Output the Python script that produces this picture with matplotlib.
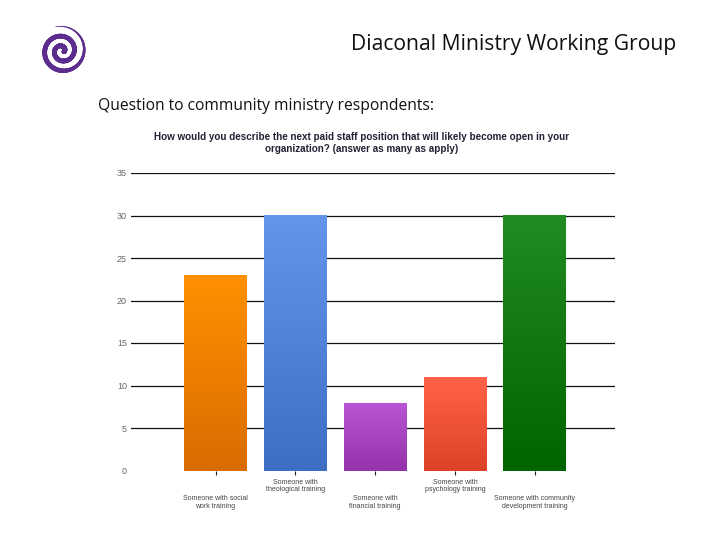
import numpy as np
import matplotlib
matplotlib.use('Agg')
import matplotlib.pyplot as plt
from matplotlib.collections import LineCollection
from matplotlib.colors import LinearSegmentedColormap

categories = ['Someone with social\nwork training', 'Someone with\ntheological training',
              'Someone with\nfinancial training', 'Someone with\npsychology training',
              'Someone with community\ndevelopment training']
values = [23, 30, 8, 11, 30]
top_colors = ['#ff9100', '#6495ed', '#ba55d3', '#ff6347', '#228b22']
bottom_colors = ['#d96c00', '#3f6fc4', '#9632ab', '#dc4326', '#006400']
y_ticks = [0, 5, 10, 15, 20, 25, 30, 35]
label_pads = [15, 3, 15, 3, 15]

W, H = 720, 540
fig = plt.figure(figsize=(7.2, 5.4), dpi=100)
bg = fig.add_axes([0, 0, 1, 1])
bg.set_xlim(0, W)
bg.set_ylim(H, 0)
bg.axis('off')

# slide text
bg.text(676, 44.5, 'Diaconal Ministry Working Group', ha='right', va='center',
        family='Open Sans', fontsize=15.2, color='#111111')
bg.text(98, 106, 'Question to community ministry respondents:', ha='left', va='center',
        family='Open Sans', fontsize=11.25, color='#111111')
bg.text(362, 143, 'How would you describe the next paid staff position that will likely become open in your\n'
        'organization? (answer as many as apply)', ha='center', va='center',
        family='Liberation Sans', fontsize=7.1, fontweight='bold', color='#222233', linespacing=1.25)

# logo spiral
t = np.linspace(0, 1, 400)
theta = np.radians(105) + 2 * np.pi * 2.35 * (t - 1)
r = 2 + 23 * t
sx = 62 + r * np.cos(theta)
sy = 51 - r * np.sin(theta)
pts = np.column_stack([sx, sy]).reshape(-1, 1, 2)
segs = np.concatenate([pts[:-1], pts[1:]], axis=1)
widths = 3.0 * np.where(t[:-1] > 0.75, (1 - t[:-1]) / 0.25, 1) + 0.4
bg.add_collection(LineCollection(segs, linewidths=widths, colors='#5b2d8e', capstyle='round'))

# chart
ax = fig.add_axes([131 / W, 1 - 470.5 / H, (615 - 131) / W, (470.5 - 173) / H])
x = np.arange(len(categories))
bars = ax.bar(x, values, width=0.785, color='none', zorder=3)
for bar, c1, c2 in zip(bars, top_colors, bottom_colors):
    cmap = LinearSegmentedColormap.from_list('g', [c1, c2])
    x0, w, h = bar.get_x(), bar.get_width(), bar.get_height()
    ax.imshow(np.linspace(0, 1, 128).reshape(-1, 1), cmap=cmap, aspect='auto',
              extent=(x0, x0 + w, 0, h), origin='upper', zorder=3)

ax.set_xlim(-1.059, 5.006)
ax.set_ylim(0, 35)
ax.set_yticks(y_ticks)
ax.set_yticklabels([str(v) for v in y_ticks], family='Liberation Sans', fontsize=6.5, color='#666666')
ax.set_xticks(x)
ax.set_xticklabels(categories, family='Liberation Sans', fontsize=5.0, color='#444444', linespacing=1.1)
for tick, pad in zip(ax.xaxis.get_major_ticks(), label_pads):
    tick.set_pad(pad)
ax.tick_params(axis='x', length=3, width=0.8, color='#222222')
ax.tick_params(axis='y', length=0, pad=3)
ax.grid(axis='y', color='#111111', linewidth=0.9, zorder=1)
ax.yaxis.get_major_ticks()[0].gridline.set_visible(False)
ax.set_axisbelow(True)
for s in ax.spines.values():
    s.set_visible(False)

fig.savefig('out.png', dpi=100)
